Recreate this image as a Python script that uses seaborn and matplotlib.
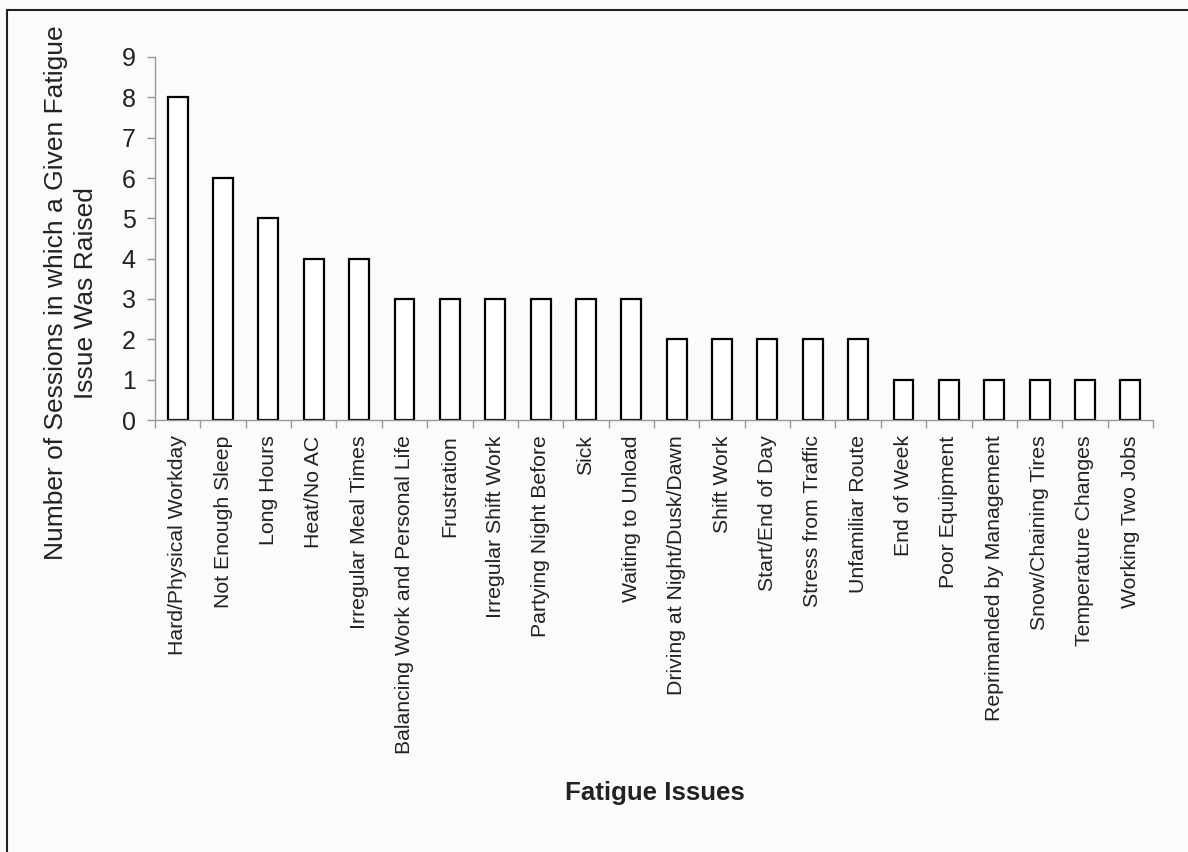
import numpy as np
import pandas as pd
import matplotlib
matplotlib.use("Agg")
import matplotlib.pyplot as plt
from matplotlib.lines import Line2D
from matplotlib.ticker import FixedLocator
import seaborn as sns

issues = [
    "Hard/Physical Workday", "Not Enough Sleep", "Long Hours", "Heat/No AC",
    "Irregular Meal Times", "Balancing Work and Personal Life", "Frustration",
    "Irregular Shift Work", "Partying Night Before", "Sick", "Waiting to Unload",
    "Driving at Night/Dusk/Dawn", "Shift Work", "Start/End of Day",
    "Stress from Traffic", "Unfamiliar Route", "End of Week", "Poor Equipment",
    "Reprimanded by Management", "Snow/Chaining Tires", "Temperature Changes",
    "Working Two Jobs",
]
sessions = [8, 6, 5, 4, 4, 3, 3, 3, 3, 3, 3, 2, 2, 2, 2, 2, 1, 1, 1, 1, 1, 1]

df = pd.DataFrame({"issue": issues, "sessions": sessions})

sns.set_style("white")
plt.rcParams['font.family'] = ['Liberation Sans', 'DejaVu Sans']

W, H = 1188, 852
fig = plt.figure(figsize=(W / 100, H / 100), dpi=100, facecolor="#fbfbfb")
ax = fig.add_axes([155 / W, 1 - 420 / H, (1153 - 155) / W, (420 - 57) / H])
ax.set_facecolor("#fbfbfb")

sns.barplot(data=df, x="issue", y="sessions", color="white", edgecolor="black",
            linewidth=1.6, width=0.44, saturation=1, ax=ax)

ax.set_xlim(-0.5, len(issues) - 0.5)
ax.set_ylim(0, 9)
ax.set_yticks(range(10))
ax.tick_params(axis="y", labelsize=18, length=6, width=1, color="#999999",
               direction="out", left=True, pad=8, labelcolor="#222222")
ax.tick_params(axis="x", which="major", length=0, labelsize=15.3, pad=11,
               labelcolor="#222222")
ax.xaxis.set_minor_locator(FixedLocator(np.arange(-0.5, len(issues), 1.0)))
ax.tick_params(axis="x", which="minor", length=6, width=1, color="#999999",
               direction="out", bottom=True)
plt.setp(ax.get_xticklabels(), rotation=90, va="top")

for s in ["top", "right"]:
    ax.spines[s].set_visible(False)
for s in ["left", "bottom"]:
    ax.spines[s].set_color("#999999")
    ax.spines[s].set_linewidth(1)

ax.set_ylabel("")
ax.set_xlabel("")
fig.text(71 / W, 1 - 293 / H,
         "Number of Sessions in which a Given Fatigue\nIssue Was Raised",
         fontsize=19, rotation=90, ha="center", va="center", multialignment="center",
         linespacing=1.3, color="#222222")
fig.text(655 / W, 1 - 793 / H, "Fatigue Issues", fontsize=18.6, fontweight="bold",
         ha="center", va="center", color="#222222")

# figure frame (top and left edges)
fig.add_artist(Line2D([7 / W, 7 / W], [0, 1 - 10 / H], transform=fig.transFigure,
                      color="#222222", lw=1.5))
fig.add_artist(Line2D([7 / W, 1], [1 - 10 / H, 1 - 10 / H], transform=fig.transFigure,
                      color="#222222", lw=1.5))

fig.savefig("out.png", dpi=100, facecolor=fig.get_facecolor())
